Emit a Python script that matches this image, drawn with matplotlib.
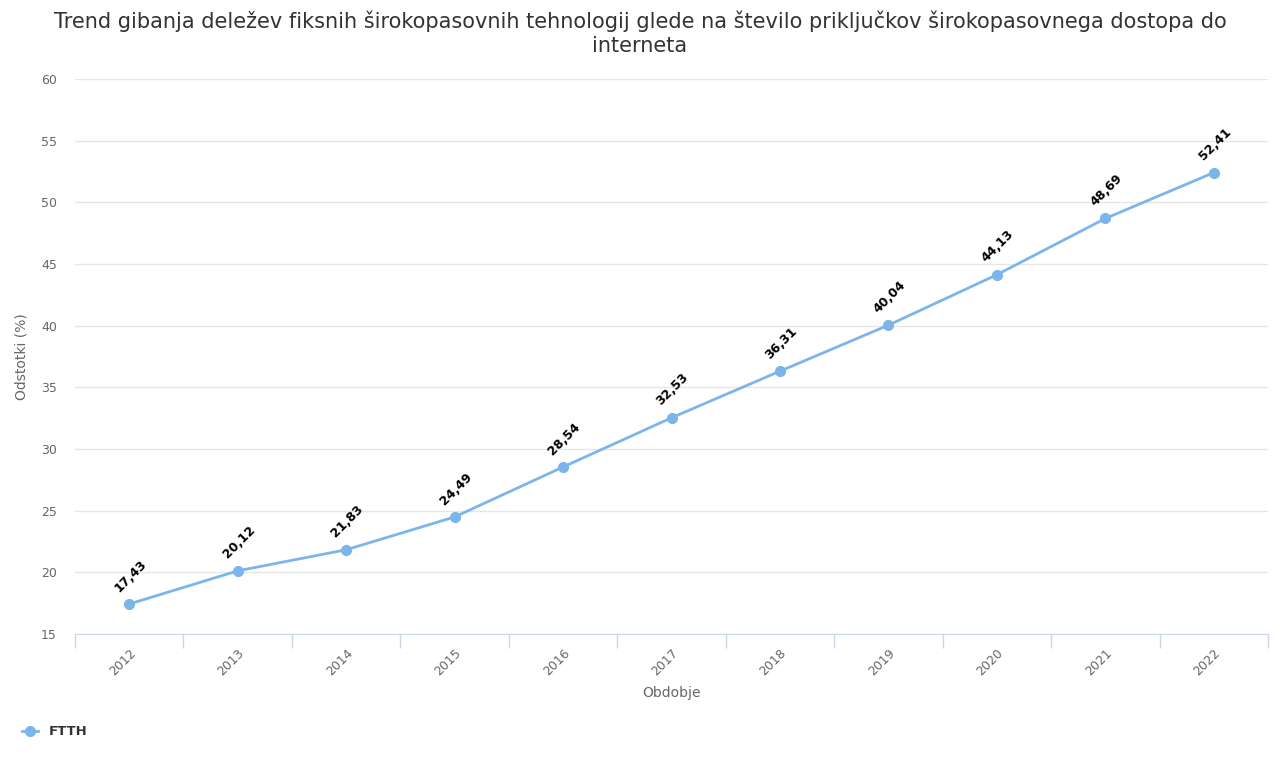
import matplotlib
matplotlib.use("Agg")
import matplotlib.pyplot as plt

years = ["2012", "2013", "2014", "2015", "2016", "2017", "2018", "2019", "2020", "2021", "2022"]
ftth = [17.43, 20.12, 21.83, 24.49, 28.54, 32.53, 36.31, 40.04, 44.13, 48.69, 52.41]
yticks = [15, 20, 25, 30, 35, 40, 45, 50, 55, 60]

plt.rcParams['font.family'] = ['DejaVu Sans']

fig = plt.figure(figsize=(12.8, 7.64), dpi=100)
ax = fig.add_axes([75/1280, 1-634/764, (1268-75)/1280, (634-79)/764])

x = list(range(len(years)))
color = '#7cb5ec'
ax.plot(x, ftth, color=color, lw=2, marker='o', ms=7, zorder=3, clip_on=False)
for xi, v in zip(x, ftth):
    ax.annotate(f"{v:.2f}".replace('.', ','), (xi, v), xytext=(-6, 7), textcoords='offset points',
                rotation=45, ha='left', va='bottom', fontsize=9, fontweight='bold', color='black',
                rotation_mode='anchor')

ax.set_xlim(-0.5, len(years) - 0.5)
ax.set_ylim(15, 60)
ax.set_yticks(yticks)
ax.set_yticklabels([str(t) for t in yticks], fontsize=9, color='#666666')
ax.set_xticks(x)
ax.set_xticklabels(years, rotation=45, ha='right', rotation_mode='anchor', fontsize=9, color='#666666')
ax.set_xticks([i - 0.5 for i in range(len(years) + 1)], minor=True)
ax.tick_params(axis='x', which='major', length=0, pad=9)
ax.tick_params(axis='x', which='minor', length=10, color='#ccd6eb', width=1)
ax.tick_params(axis='y', length=0, pad=13)

ax.grid(axis='y', color='#e6e6e6', lw=1)
ax.set_axisbelow(True)
for s in ['top', 'right', 'left']:
    ax.spines[s].set_visible(False)
ax.spines['bottom'].set_color('#ccd6eb')

ax.set_xlabel('Obdobje', fontsize=10, color='#666666', labelpad=6)
ax.set_ylabel('Odstotki (%)', fontsize=10, color='#666666', labelpad=9)

fig.text(0.5, 1-33/764, "Trend gibanja deležev fiksnih širokopasovnih tehnologij glede na število priključkov širokopasovnega dostopa do\ninterneta",
         ha='center', va='center', fontsize=15.0, color='#333333', linespacing=1.27)

ax.legend(['FTTH'], loc='lower left', bbox_to_anchor=(10/1280, 14/764), bbox_transform=fig.transFigure,
          frameon=False, prop={'weight': 'bold', 'size': 9.5}, handlelength=1.2, labelcolor='#333333')

fig.savefig('out.png', dpi=100)
